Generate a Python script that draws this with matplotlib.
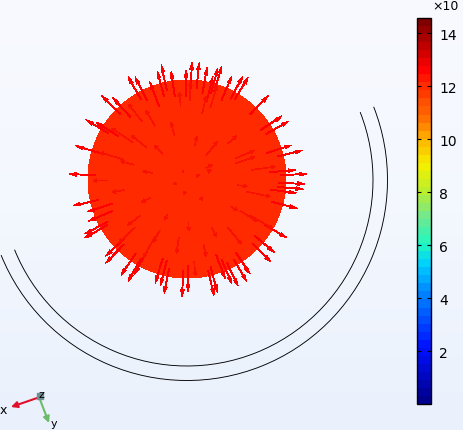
import matplotlib
matplotlib.use("Agg")
import matplotlib.pyplot as plt
import numpy as np
from matplotlib.cm import ScalarMappable
from matplotlib.colors import BoundaryNorm, LinearSegmentedColormap
from matplotlib.patches import Arc, Circle

# outer arrows: direction in degrees and distance of the tip from the disc centre
outer_angle = [105.5, 102.8, 98.4, 90.5, 87.6, 84, 79.8, 75.8, 74.4, 72.8, 66.4, 61.5, 59,
               45.7, 33.6, 29.6, 18, 14, 4.7, 2.4, -2.4, -5, -7.3, -15, -30.5, -40, -44.7,
               -56.4, -59.8, -64.5, -66.8, -69, -75, -77, -89.5, -92.4, -101.3, -104, -107,
               -120, -119, -124.5, -134, -136.5, -150, -151.7, -156.8, -161.7, -166.7,
               177.6, 163.4, 149.7, 148, 135.7, 132.4, 120, 117, 111]
outer_tip = [112, 117, 109, 109, 117, 117, 113, 106, 115, 118, 112, 117, 119,
             116, 114, 117, 110, 119, 109, 120, 118, 116.5, 110, 114, 116, 114, 118,
             114, 119, 118.5, 114, 107, 117, 120, 113, 118, 117, 110, 109,
             118, 109, 116.5, 117, 112, 118, 116, 107, 105, 117,
             118, 116, 117, 107, 119, 110, 118, 114.5, 104]

# arrows lying over the disc
inner_angle = [77, 51, 41, 23, 18, 8, 30, 20, 18, 119, 106, 134, 95, 88, 77, 72, 146, 142,
               128, 121, 165, 163, 170, 181, 190, 207, 218, 223, 241, 242, 241, 262, 272,
               201, 260, 306, 275, 284, 353, 348, 328, 329, 330, 310, 297]
inner_tip = [44, 48, 66, 73, 71, 89, 30, 26, 13, 10, 59, 47, 87, 97, 85, 97, 91, 71,
             95, 80, 69, 91, 45, 94, 76, 51, 75, 93, 47, 72, 90, 75, 52,
             14, 16, 27, 97, 80, 61, 85, 60, 82, 99, 85, 65]
inner_len = [10, 18, 12, 20, 20, 24, 8, 4, 3, 2, 14, 12, 14, 18, 18, 22, 26, 20,
             22, 18, 14, 24, 10, 14, 12, 10, 16, 22, 6, 14, 24, 16, 8,
             2, 3, 4, 14, 12, 10, 24, 8, 20, 26, 22, 10]

# colour bar
tick_values = [2, 4, 6, 8, 10, 12, 14]
bar_max = 14.57
bar_levels = 48
bar_stops = [0, 2, 4, 5.2, 6, 7, 8, 9, 10, 10.8, 12, 12.7, 13.6, 14.57]
bar_colors = ["#00008f", "#0010ff", "#0080ff", "#00d0ff", "#20f8c0", "#70e890", "#b8ee30",
              "#f4f000", "#ffb800", "#ff7000", "#ff3000", "#ff0000", "#c00000", "#800000"]

cx, cy = 187, 180
disc_r = 99
arc_cy = 181
arc_radii = [200.5, 186]

fig = plt.figure(figsize=(4.63, 4.31), dpi=100)
ax = fig.add_axes([0, 0, 1, 1])

# pale blue background, slightly darker towards the bottom
bg = LinearSegmentedColormap.from_list("bg", ["#f8faff", "#f3f7fe", "#eaf1fc"])
ax.imshow(np.linspace(0, 1, 200)[:, None], cmap=bg, extent=[0, 463, 431, 0], aspect="auto")

ax.add_patch(Circle((cx, cy), disc_r, facecolor="#ff2a00", edgecolor="none", antialiased=False, zorder=2))

for r in arc_radii:
    ax.add_patch(Arc((cx, arc_cy), 2 * r, 2 * r, theta1=-21.4, theta2=158, color="black", lw=0.65, zorder=2))

# outer arrows
a = np.radians(outer_angle)
tip = np.array(outer_tip)
tail = tip - 26
ax.quiver(cx + tail * np.cos(a), cy - tail * np.sin(a), (tip - tail) * np.cos(a), -(tip - tail) * np.sin(a),
          angles="xy", scale_units="xy", scale=1, units="xy", width=0.9, headwidth=3.8, headlength=8,
          headaxislength=7, color="#ff0000", antialiased=False, zorder=3)

# inner arrows
a = np.radians(inner_angle)
tip = np.array(inner_tip)
ln = np.array(inner_len)
tail = tip - ln
ax.quiver(cx + tail * np.cos(a), cy - tail * np.sin(a), ln * np.cos(a), -ln * np.sin(a),
          angles="xy", scale_units="xy", scale=1, units="xy", width=0.6, headwidth=6, headlength=6,
          headaxislength=6, minlength=0, color="#f81000", antialiased=False, zorder=3)

# axis triad
ax.annotate("", xy=(11, 408), xytext=(40, 398), zorder=4,
            arrowprops=dict(arrowstyle="-|>", color="#e0102a", lw=1.5, shrinkA=0, shrinkB=0, mutation_scale=9))
ax.annotate("", xy=(49, 424), xytext=(39, 398), zorder=4,
            arrowprops=dict(arrowstyle="-|>", color="#6dbb6a", lw=1.5, shrinkA=0, shrinkB=0, mutation_scale=9))
ax.plot([40], [397], "s", color="#6f8f94", ms=4, zorder=5)
ax.text(3.5, 411, "x", fontsize=9, ha="center", va="center")
ax.text(41, 395, "z", fontsize=8, ha="center", va="center", zorder=6)
ax.text(54, 424, "y", fontsize=8, ha="center", va="center")

ax.set_xlim(0, 463)
ax.set_ylim(431, 0)
ax.axis("off")

# colour bar
cax = fig.add_axes([417 / 463, 1 - 405 / 431, 14 / 463, 386 / 431])
norm = BoundaryNorm(np.linspace(0, bar_max, bar_levels + 1), 256)
cmap = LinearSegmentedColormap.from_list("bar", [(s / bar_max, c) for s, c in zip(bar_stops, bar_colors)])
cb = fig.colorbar(ScalarMappable(norm=norm, cmap=cmap), cax=cax, spacing="proportional", drawedges=False)
cb.set_ticks(tick_values)
cb.set_ticklabels([str(v) for v in tick_values])
cb.minorticks_off()
cax.tick_params(axis="y", which="both", direction="in", length=3, width=0.8, left=True, right=True,
                labelsize=10, pad=6, color="black")
cb.outline.set_linewidth(1)
fig.text(432 / 463, 1 - 6 / 431, "×10", fontsize=9, ha="left", va="center")

fig.savefig("out.png", dpi=100)
